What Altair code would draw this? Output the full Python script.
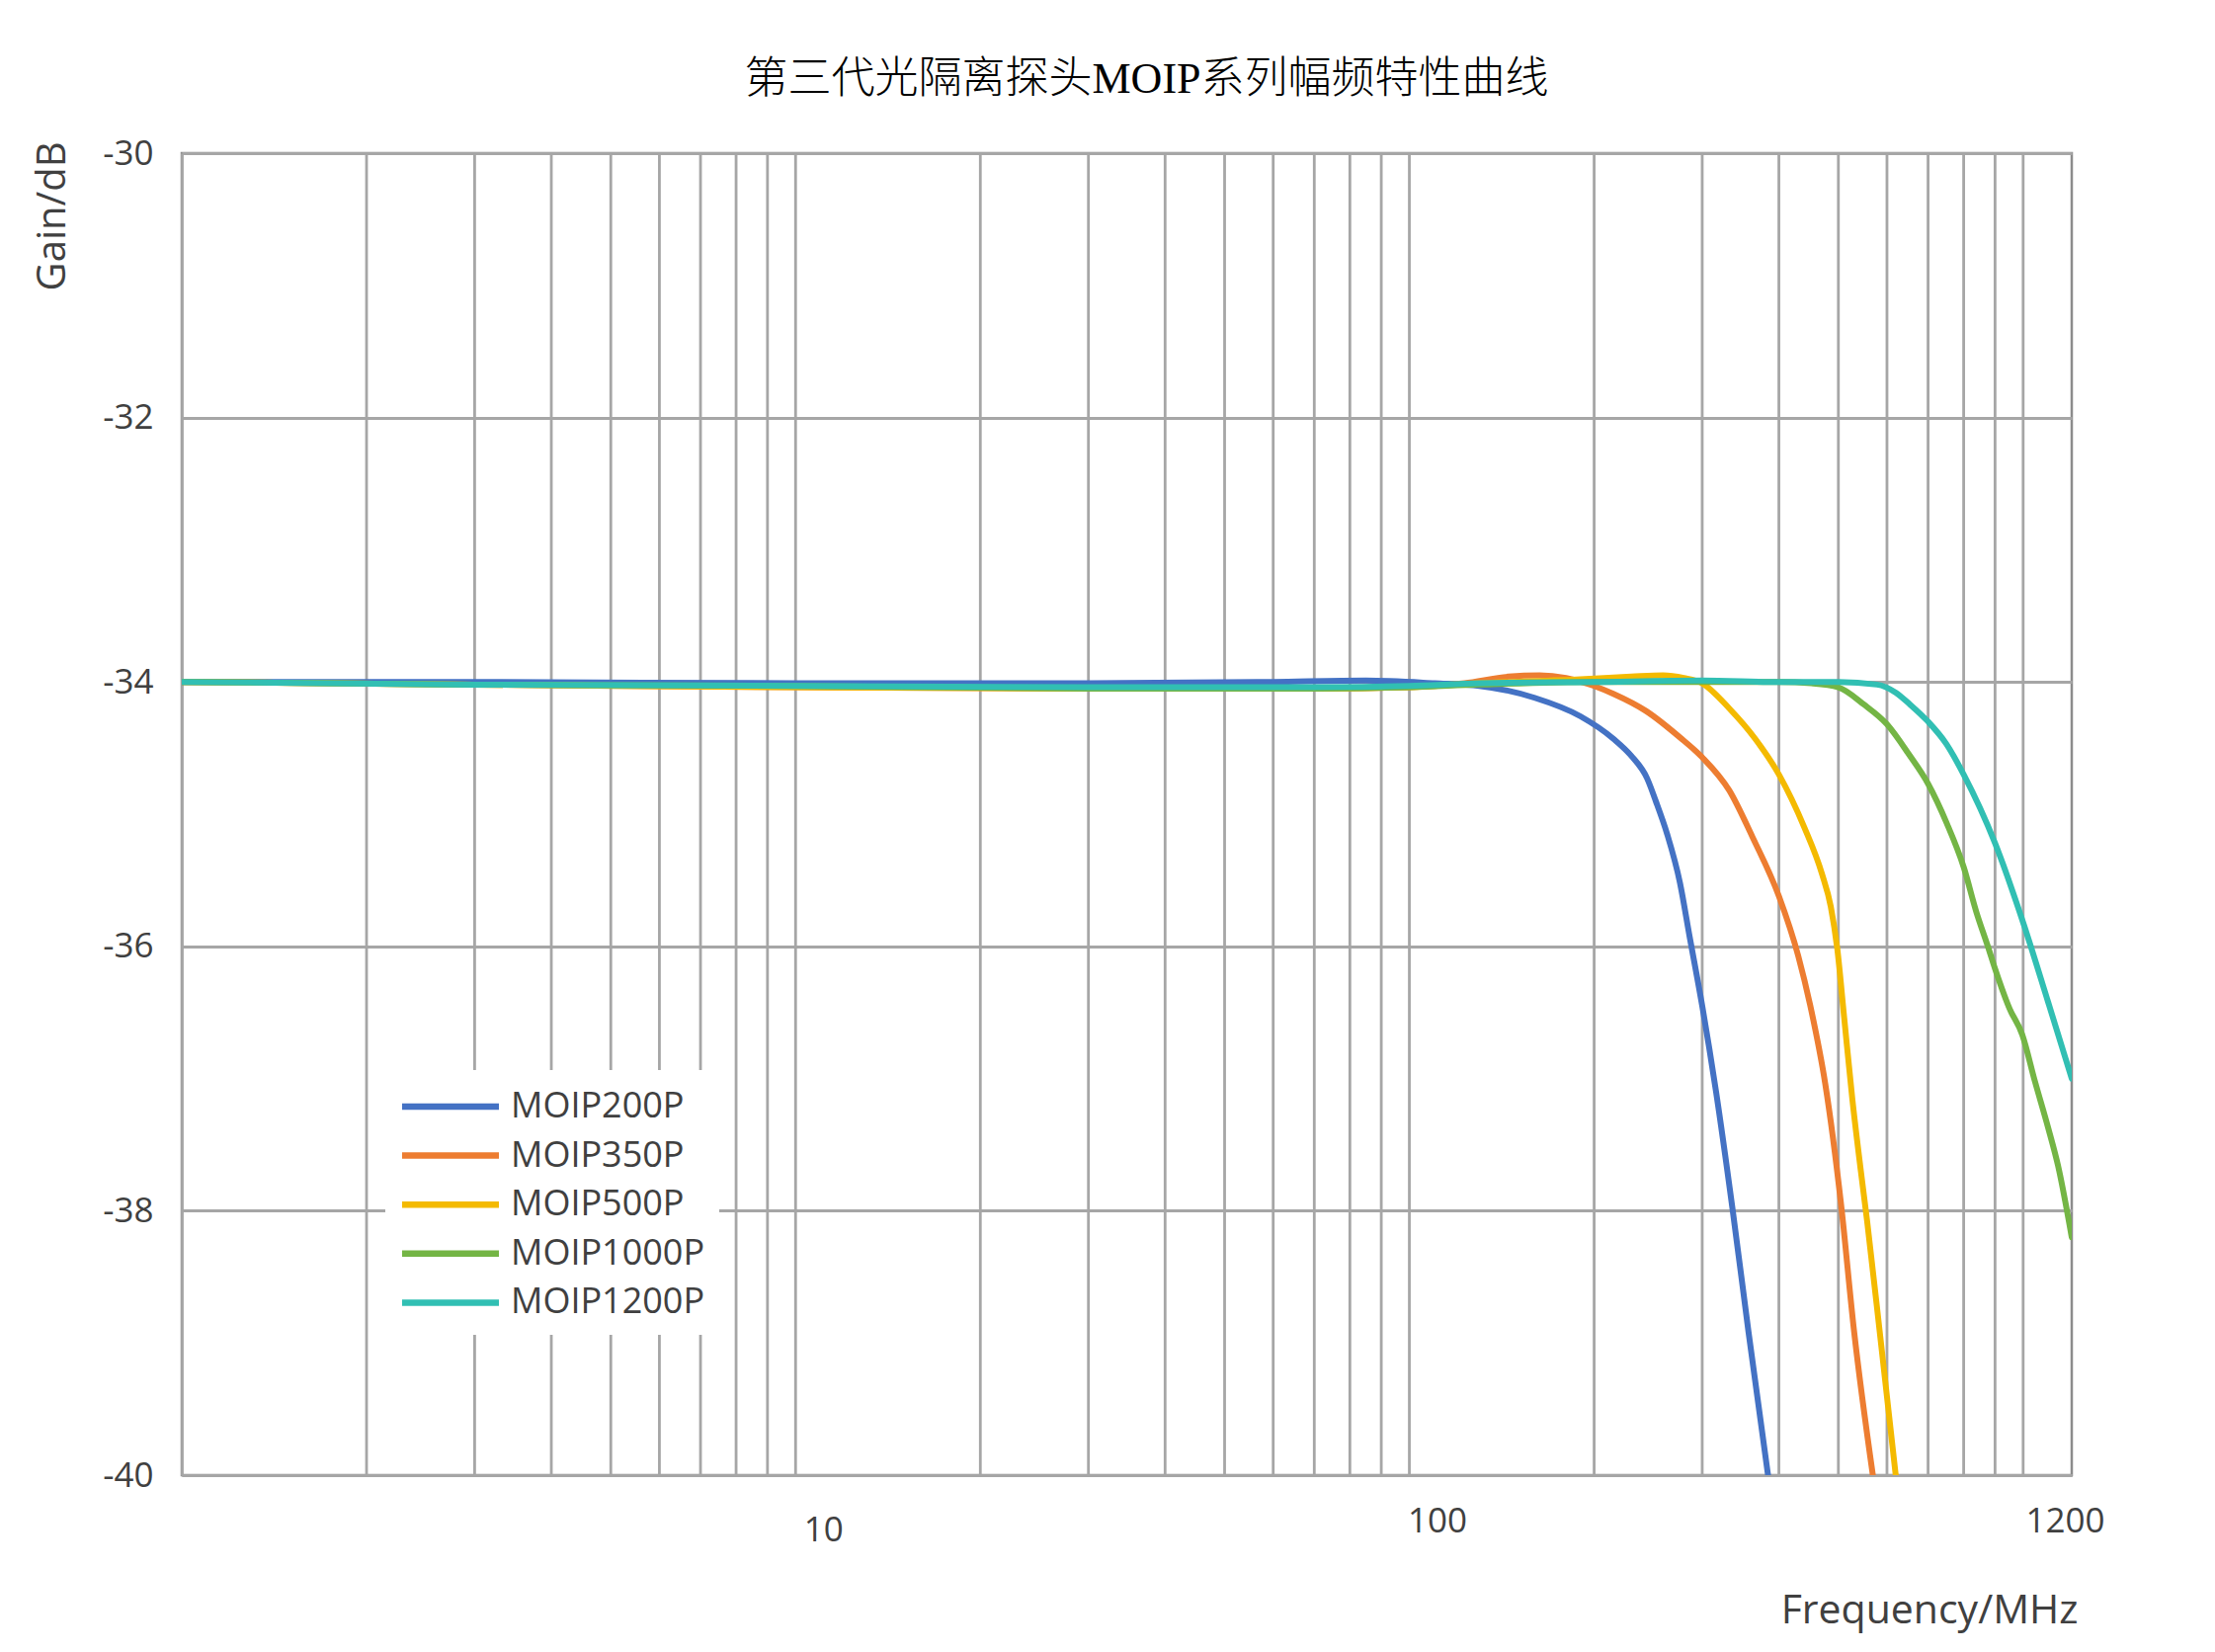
# Amplitude-frequency curves of the MOIP optical isolated probes
import pandas as pd
import altair as alt

# -----------------------------
# DATA
# -----------------------------

series_names = ['MOIP200P', 'MOIP350P', 'MOIP500P', 'MOIP1000P', 'MOIP1200P']
series_colors = ['#4472C4', '#ED7D31', '#F4BA00', '#74B545', '#31BFB3']

freq_200 = [1, 3, 10, 30, 60, 85, 110, 130, 160, 190, 215, 230, 244, 252, 263, 276, 286, 300, 316, 336, 357, 384]
gain_200 = [-34.00, -34.00, -34.01, -34.01, -34.00, -33.99, -34.01, -34.03, -34.12, -34.26, -34.43, -34.56,
            -34.73, -34.90, -35.15, -35.52, -35.92, -36.45, -37.10, -37.98, -38.92, -40.00]

freq_350 = [1, 3, 10, 30, 70, 100, 123, 145, 163, 180, 200, 215, 243, 276, 300, 332, 362, 400, 430, 452,
            476, 505, 530, 569]
gain_350 = [-34.00, -34.02, -34.04, -34.05, -34.05, -34.04, -34.01, -33.96, -33.95, -33.97, -34.03, -34.09,
            -34.22, -34.42, -34.57, -34.82, -35.17, -35.62, -36.07, -36.49, -37.04, -37.95, -38.90, -40.00]

freq_500 = [1, 3, 10, 30, 70, 100, 130, 190, 230, 259, 280, 300, 332, 366, 400, 440, 470, 486, 498, 511,
            527, 544, 557, 585, 620]
gain_500 = [-34.00, -34.02, -34.04, -34.05, -34.05, -34.04, -34.01, -33.98, -33.96, -33.95, -33.97, -34.01,
            -34.20, -34.43, -34.70, -35.10, -35.45, -35.70, -36.02, -36.54, -37.16, -37.70, -38.08, -38.95,
            -40.00]

freq_1000 = [1, 3, 10, 30, 70, 100, 130, 200, 300, 400, 452, 500, 550, 600, 652, 700, 751, 800, 839, 876,
             900, 950, 997, 1045, 1098, 1140, 1200]
gain_1000 = [-34.00, -34.02, -34.03, -34.05, -34.05, -34.04, -34.02, -34.00, -34.00, -34.00, -34.01, -34.04,
             -34.17, -34.32, -34.55, -34.77, -35.07, -35.40, -35.74, -36.00, -36.17, -36.47, -36.67, -37.02,
             -37.37, -37.66, -38.20]

freq_1200 = [1, 3, 10, 30, 70, 100, 130, 200, 300, 400, 500, 578, 620, 654, 700, 750, 800, 900, 1000, 1098, 1200]
gain_1200 = [-34.00, -34.02, -34.03, -34.04, -34.04, -34.03, -34.01, -34.00, -33.99, -34.00, -34.00, -34.02,
             -34.08, -34.17, -34.30, -34.47, -34.70, -35.22, -35.82, -36.42, -37.00]

# log grid lines of the frequency axis
grid_freq = [2, 3, 4, 5, 6, 7, 8, 9, 10, 20, 30, 40, 50, 60, 70, 80, 90, 100,
             200, 300, 400, 500, 600, 700, 800, 900, 1000]
x_labels = [10, 100, 1200]
y_ticks = [-30, -32, -34, -36, -38, -40]

# long table
frames = []
for name, f, g in zip(series_names,
                      [freq_200, freq_350, freq_500, freq_1000, freq_1200],
                      [gain_200, gain_350, gain_500, gain_1000, gain_1200]):
    frames.append(pd.DataFrame({'series': name, 'freq': f, 'gain': g}))
df = pd.concat(frames, ignore_index=True)
df_grid = pd.DataFrame({'freq': grid_freq})

# -----------------------------
# CHART
# -----------------------------

label_font = 'Open Sans'
text_color = '#404040'
grid_color = '#A6A6A6'

x_enc = alt.X(
    'freq:Q',
    scale=alt.Scale(type='log', domain=[1, 1200], nice=False),
    axis=alt.Axis(
        values=x_labels, format='d', grid=False, ticks=False, tickSize=0,
        labelFlush=False, labelBaseline='middle',
        labelOffset={'condition': {'test': 'datum.value == 1200', 'value': -7}, 'value': 28},
        labelPadding={'condition': {'test': 'datum.value == 10', 'value': 55}, 'value': 46},
        title='Frequency/MHz', titleAnchor='end', titleAlign='right', titleBaseline='alphabetic',
        titleX=1919, titleY=149, titleFontSize=41,
    ),
)

grid_rules = alt.Chart(df_grid).mark_rule(color=grid_color, strokeWidth=2.8).encode(x=x_enc)

lines = alt.Chart(df).mark_line(
    interpolate='monotone', clip=True, strokeWidth=6, strokeCap='round', strokeJoin='round'
).encode(
    x=x_enc,
    y=alt.Y(
        'gain:Q',
        scale=alt.Scale(domain=[-40, -30], nice=False, zero=False),
        axis=alt.Axis(
            values=y_ticks, labelExpr="'' + datum.value", grid=True, ticks=False, tickSize=0,
            labelPadding=29,
            title='Gain/dB', titleAngle=270, titleAlign='right', titleBaseline='middle',
            titleX=-131, titleY=-12, titleFontSize=40,
        ),
    ),
    color=alt.Color(
        'series:N',
        sort=series_names,
        scale=alt.Scale(domain=series_names, range=series_colors),
        title=None,
        legend=alt.Legend(
            orient='none', legendX=206, legendY=928, direction='vertical',
            symbolType='M-2.5,0H2.5', symbolSize=1537, symbolStrokeWidth=6.5,
            symbolOffset=29, labelOffset=38, rowPadding=8.6, labelLimit=400,
            padding=14, fillColor='white',
            labelFont=label_font, labelFontSize=36, labelColor=text_color,
        ),
    ),
)

chart = (grid_rules + lines).properties(
    width=1913,
    height=1338,
    title=alt.TitleParams(
        text='第三代光隔离探头MOIP系列幅频特性曲线',
        font='Liberation Serif, Noto Sans CJK SC',
        fontSize=44, fontWeight=300, color='#000000',
        anchor='middle', baseline='bottom', offset=51, dx=20, dy=60,
    ),
    autosize=alt.AutoSizeParams(type='none'),
    padding={'left': 176, 'top': 147, 'right': 120, 'bottom': 160},
).configure_view(
    stroke='#8C8C8C', strokeWidth=2.5
).configure_axis(
    labelFont=label_font, labelFontSize=35, labelColor=text_color,
    titleFont=label_font, titleColor=text_color, titleFontWeight='normal',
    domainColor=grid_color, domainWidth=2.8,
    gridColor=grid_color, gridWidth=2.8,
)

chart.save('out.html', embed_options={'renderer': 'svg', 'actions': False})
